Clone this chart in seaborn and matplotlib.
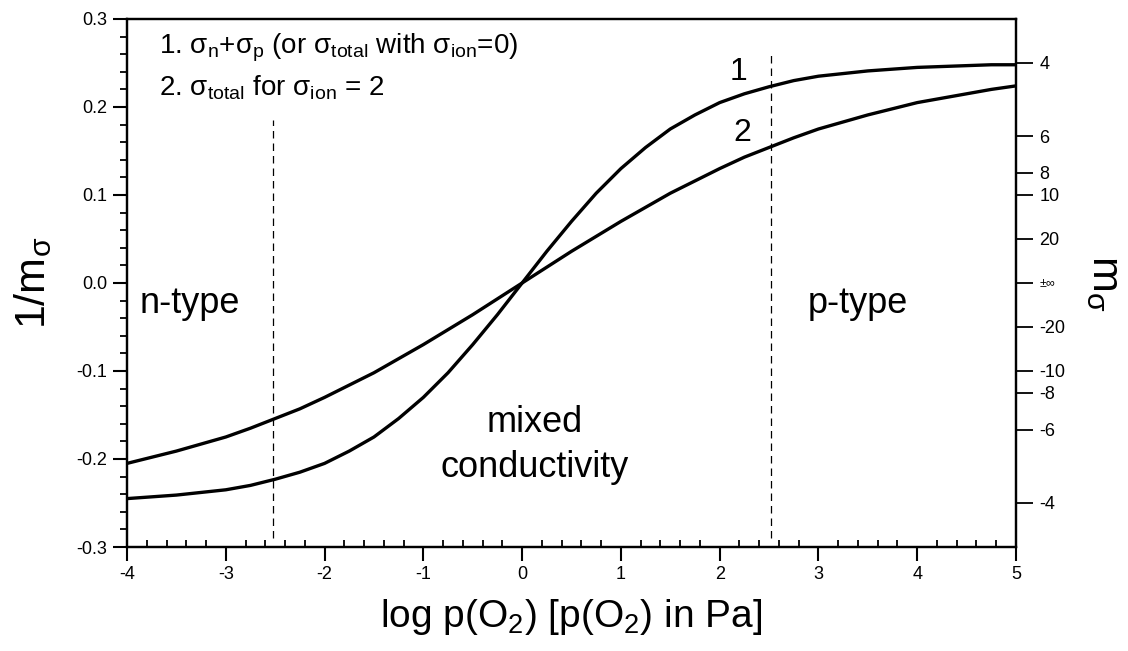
import matplotlib
matplotlib.use("Agg")
import matplotlib.pyplot as plt
from matplotlib.ticker import MultipleLocator, FixedLocator
from matplotlib import font_manager
import seaborn as sns
import pandas as pd

# ---------------- data ----------------
log_pO2 = [-4.0, -3.75, -3.5, -3.25, -3.0, -2.75, -2.5, -2.25, -2.0, -1.75,
           -1.5, -1.25, -1.0, -0.75, -0.5, -0.25, 0.0, 0.25, 0.5, 0.75,
           1.0, 1.25, 1.5, 1.75, 2.0, 2.25, 2.5, 2.75, 3.0, 3.25,
           3.5, 3.75, 4.0, 4.25, 4.5, 4.75, 5.0]
curve1 = [-0.245, -0.243, -0.241, -0.238, -0.235, -0.230, -0.223, -0.215, -0.205, -0.191,
          -0.175, -0.154, -0.130, -0.102, -0.070, -0.036, 0.000, 0.036, 0.070, 0.102,
          0.130, 0.154, 0.175, 0.191, 0.205, 0.215, 0.223, 0.230, 0.235, 0.238,
          0.241, 0.243, 0.245, 0.246, 0.247, 0.248, 0.248]
curve2 = [-0.205, -0.198, -0.191, -0.183, -0.175, -0.165, -0.154, -0.143, -0.130, -0.116,
          -0.102, -0.086, -0.070, -0.053, -0.036, -0.018, 0.000, 0.018, 0.036, 0.053,
          0.070, 0.086, 0.102, 0.116, 0.130, 0.143, 0.154, 0.165, 0.175, 0.183,
          0.191, 0.198, 0.205, 0.210, 0.215, 0.220, 0.224]
boundaries = [-2.52, 2.52]
m_labels = ["4", "6", "8", "10", "20", "±∞", "-20", "-10", "-8", "-6", "-4"]
m_values = [4, 6, 8, 10, 20, None, -20, -10, -8, -6, -4]
x_ticks = [-4, -3, -2, -1, 0, 1, 2, 3, 4, 5]
y_ticks = [-0.3, -0.2, -0.1, 0.0, 0.1, 0.2, 0.3]

# ---------------- style ----------------
sns.set_theme(style="ticks")
names = {f.name for f in font_manager.fontManager.ttflist}
base_font = "Liberation Sans" if "Liberation Sans" in names else "DejaVu Sans"
plt.rcParams["font.family"] = [base_font, "DejaVu Sans"]
plt.rcParams["axes.unicode_minus"] = False
plt.rcParams["mathtext.fontset"] = "custom"
plt.rcParams["mathtext.rm"] = base_font
plt.rcParams["mathtext.it"] = base_font
plt.rcParams["mathtext.bf"] = base_font
for k in ["text.color", "axes.labelcolor", "xtick.color", "ytick.color", "axes.edgecolor"]:
    plt.rcParams[k] = "black"

fig = plt.figure(figsize=(11.28, 6.51), dpi=100)
fig.patch.set_facecolor("white")
ax = fig.add_axes([127 / 1128, 1 - 547 / 651, (1016 - 127) / 1128, (547 - 19) / 651])
ax.set_facecolor("white")

df = pd.DataFrame({
    "x": log_pO2 * 2,
    "y": curve1 + curve2,
    "curve": ["1"] * len(log_pO2) + ["2"] * len(log_pO2),
})
sns.lineplot(data=df, x="x", y="y", units="curve", estimator=None,
             color="black", lw=2.4, ax=ax, legend=False)

# region boundaries
ax.plot([boundaries[0]] * 2, [-0.29, 0.185], color="black", lw=0.9, ls=(0, (6, 4)))
ax.plot([boundaries[1]] * 2, [-0.29, 0.2625], color="black", lw=0.9, ls=(0, (6, 4)))

ax.set_xlim(-4, 5)
ax.set_ylim(-0.3, 0.3)
ax.set_xticks(x_ticks)
ax.set_xticklabels([str(v) for v in x_ticks])
ax.set_yticks(y_ticks)
ax.set_yticklabels([f"{v:.1f}" for v in y_ticks])
ax.xaxis.set_minor_locator(MultipleLocator(0.2))
ax.yaxis.set_minor_locator(MultipleLocator(0.02))
ax.tick_params(axis="both", which="major", direction="out", length=10, width=1.5,
               labelsize=13, colors="black", pad=4)
ax.tick_params(axis="y", which="minor", direction="out", length=5, width=1.3)
ax.tick_params(axis="x", which="minor", direction="in", length=5, width=1.3)
for s in ax.spines.values():
    s.set_linewidth(1.6)
    s.set_color("black")

ax.set_xlabel("log p(O$_2$) [p(O$_2$) in Pa]", fontsize=28, labelpad=10)
ax.set_ylabel(r"1/m$_{\sigma}$", fontsize=31, labelpad=16)

# right axis
ax2 = ax.twinx()
ax2.set_ylim(-0.3, 0.3)
rpos = [0.0 if m is None else 1.0 / m for m in m_values]
ax2.yaxis.set_major_locator(FixedLocator(rpos))
ax2.set_yticklabels(m_labels)
ax2.tick_params(axis="y", which="major", direction="out", length=12, width=1.3,
                labelsize=13, colors="black", pad=5)
for lbl, txt in zip(ax2.get_yticklabels(), m_labels):
    if txt == "±∞":
        lbl.set_fontsize(9)
for s in ax2.spines.values():
    s.set_linewidth(1.6)
ax2.set_ylabel(r"m$_{\sigma}$", fontsize=31, rotation=270, labelpad=42)

# annotations
ax.text(-3.68, 0.261, r"1. σ$_{\mathrm{n}}$+σ$_{\mathrm{p}}$ (or σ$_{\mathrm{total}}$ with σ$_{\mathrm{ion}}$=0)",
        fontsize=20, va="baseline", ha="left")
ax.text(-3.68, 0.2125, r"2. σ$_{\mathrm{total}}$ for σ$_{\mathrm{ion}}$ = 2",
        fontsize=20, va="baseline", ha="left")
ax.text(2.19, 0.240, "1", fontsize=23, ha="center", va="center")
ax.text(2.23, 0.170, "2", fontsize=23, ha="center", va="center")
ax.text(-3.87, -0.034, "n-type", fontsize=26, ha="left", va="baseline")
ax.text(3.40, -0.034, "p-type", fontsize=26, ha="center", va="baseline")
ax.text(0.13, -0.169, "mixed", fontsize=26, ha="center", va="baseline")
ax.text(0.13, -0.220, "conductivity", fontsize=26, ha="center", va="baseline")

fig.savefig("out.png", dpi=100, facecolor="white")
